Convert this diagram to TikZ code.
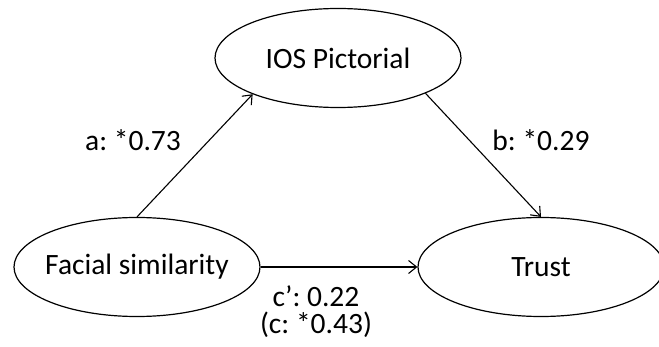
\documentclass[tikz,border=0pt]{standalone}
\usepackage{fontspec}
\setmainfont{Carlito}
\frenchspacing
\usetikzlibrary{shapes.geometric,arrows.meta}
\begin{document}
\begin{tikzpicture}[x=1pt,y=-1pt,
  var/.style={draw,line width=1.2pt,ellipse,minimum width=246pt,minimum height=99pt,inner sep=-12pt,font=\fontsize{29.5}{31}\selectfont},
  lab/.style={font=\fontsize{29.5}{31}\selectfont,align=center,inner sep=0pt},
  conn/.style={line width=1.1pt,-{Straight Barb[length=8pt,width=13pt,line width=1.1pt]}}]
\useasboundingbox (0,0) rectangle (659,347);
\fill[white] (0,0) rectangle (659,347);
\node[var] (ios) at (338,58) {IOS Pictorial};
\node[var] (fac) at (137,267) {Facial similarity};
\node[var] (tru) at (541,267) {Trust};
\draw[conn] (fac.north) -- (ios.-157);
\draw[conn] (ios.-22) -- (tru.north);
\draw[conn] (fac.east) -- (tru.west);
\node[lab] (la) at (133,140) {a: *0.73};
\node[lab] (lb) at (541,140) {b: *0.29};
\node[lab] (lc) at (316,312) {c’: 0.22\\[-4pt](c: *0.43)};
\end{tikzpicture}
\end{document}
